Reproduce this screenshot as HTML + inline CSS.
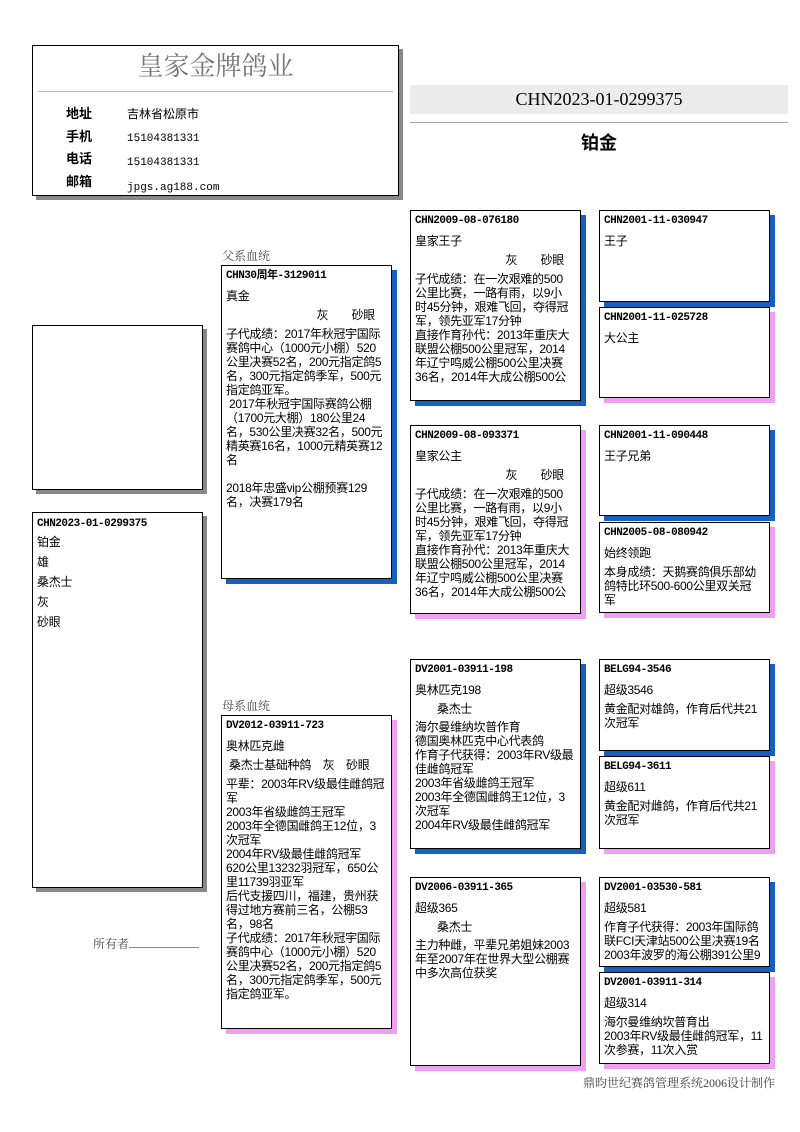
<!DOCTYPE html>
<html><head><meta charset="utf-8"><style>
*{margin:0;padding:0;box-sizing:border-box}
body{width:800px;height:1132px;background:#fff;position:relative;overflow:hidden;font-family:"Liberation Sans","Noto Sans CJK SC",sans-serif;color:#000}
.a{position:absolute}
.box{position:absolute;border:1px solid #000;background:#fff;padding:3px 4px;font-size:12px;line-height:14px;overflow:hidden;white-space:nowrap;letter-spacing:-0.3px}
.m{box-shadow:5px 5px 0 #1560c0}
.f{box-shadow:5px 5px 0 #f0a0f0}
.g{box-shadow:4px 4px 0 #888}
.c{font-family:"Liberation Mono","Noto Sans CJK SC",monospace;font-weight:bold;font-size:11px;letter-spacing:-0.5px;line-height:14px;margin-bottom:6px}
.n{margin-bottom:5px}
.ce{text-align:right;padding-right:12px;margin-bottom:5px}
.lab{font-family:"Liberation Serif","Noto Serif CJK SC",serif;font-size:12px;color:#444}
</style></head><body>

<div class="box g" style="left:32px;top:45px;width:367px;height:151px;padding:0;letter-spacing:0">
  <div class="a" style="left:0;top:4px;width:100%;text-align:center;font-family:'Liberation Serif','Noto Serif CJK SC',serif;font-size:26px;color:#777;line-height:34px">皇家金牌鸽业</div>
  <div class="a" style="left:5px;top:45px;width:355px;height:1px;background:#bbb"></div>
  <div class="a" style="left:33px;top:57px;font-size:13px;font-weight:bold;line-height:22.7px">地址<br>手机<br>电话<br>邮箱</div>
  <div class="a" style="left:94px;top:57px;font-size:12px;line-height:22.7px">吉林省松原市<br><span style="font-family:'Liberation Mono',monospace;font-size:11px">15104381331<br>15104381331<br>jpgs.ag188.com</span></div>
</div>

<div class="a" style="left:410px;top:85px;width:378px;height:29px;background:#ececec;text-align:center;font-family:'Liberation Serif',serif;font-size:18px;line-height:29px">CHN2023-01-0299375</div>
<div class="a" style="left:410px;top:122px;width:378px;height:1px;background:#aaa"></div>
<div class="a" style="left:410px;top:131px;width:378px;text-align:center;font-size:18px;font-weight:bold;line-height:24px">铂金</div>

<div class="box g" style="left:32px;top:325px;width:171px;height:165px"></div>
<div class="box g" style="left:32px;top:512px;width:171px;height:376px;line-height:20px">
<div class="c" style="margin-bottom:0;line-height:16px">CHN2023-01-0299375</div>铂金<br>雄<br>桑杰士<br>灰<br>砂眼</div>
<div class="a lab" style="left:93px;top:935px">所有者<span style="display:inline-block;width:70px;border-bottom:1px solid #888"></span></div>

<div class="a lab" style="left:222px;top:247px">父系血统</div>
<div class="box m" style="left:221px;top:265px;width:171px;height:314px">
<div class="c">CHN30周年-3129011</div><div class="n">真金</div><div class="ce">灰　　砂眼</div>
子代成绩：2017年秋冠宇国际<br>赛鸽中心（1000元小棚）520<br>公里决赛52名，200元指定鸽5<br>名，300元指定鸽季军，500元<br>指定鸽亚军。<br>&nbsp;2017年秋冠宇国际赛鸽公棚<br>（1700元大棚）180公里24<br>名，530公里决赛32名，500元<br>精英赛16名，1000元精英赛12<br>名<br><br>2018年忠盛vip公棚预赛129<br>名，决赛179名</div>

<div class="a lab" style="left:222px;top:697px">母系血统</div>
<div class="box f" style="left:221px;top:715px;width:171px;height:314px">
<div class="c">DV2012-03911-723</div><div class="n">奥林匹克雌</div><div class="n">&nbsp;桑杰士基础种鸽　灰　砂眼</div>
平辈：2003年RV级最佳雌鸽冠<br>军<br>2003年省级雌鸽王冠军<br>2003年全德国雌鸽王12位，3<br>次冠军<br>2004年RV级最佳雌鸽冠军<br>620公里13232羽冠军，650公<br>里11739羽亚军<br>后代支援四川，福建，贵州获<br>得过地方赛前三名，公棚53<br>名，98名<br>子代成绩：2017年秋冠宇国际<br>赛鸽中心（1000元小棚）520<br>公里决赛52名，200元指定鸽5<br>名，300元指定鸽季军，500元<br>指定鸽亚军。</div>

<div class="box m" style="left:410px;top:210px;width:171px;height:191px">
<div class="c">CHN2009-08-076180</div><div class="n">皇家王子</div><div class="ce">灰　　砂眼</div>
子代成绩：在一次艰难的500<br>公里比赛，一路有雨，以9小<br>时45分钟，艰难飞回，夺得冠<br>军，领先亚军17分钟<br>直接作育孙代：2013年重庆大<br>联盟公棚500公里冠军，2014<br>年辽宁鸣威公棚500公里决赛<br>36名，2014年大成公棚500公</div>
<div class="box f" style="left:410px;top:425px;width:171px;height:189px">
<div class="c">CHN2009-08-093371</div><div class="n">皇家公主</div><div class="ce">灰　　砂眼</div>
子代成绩：在一次艰难的500<br>公里比赛，一路有雨，以9小<br>时45分钟，艰难飞回，夺得冠<br>军，领先亚军17分钟<br>直接作育孙代：2013年重庆大<br>联盟公棚500公里冠军，2014<br>年辽宁鸣威公棚500公里决赛<br>36名，2014年大成公棚500公</div>
<div class="box m" style="left:410px;top:659px;width:171px;height:190px">
<div class="c">DV2001-03911-198</div><div class="n">奥林匹克198</div><div style="padding-left:22px;margin-bottom:4px">桑杰士</div>
海尔曼维纳坎普作育<br>德国奥林匹克中心代表鸽<br>作育子代获得：2003年RV级最<br>佳雌鸽冠军<br>2003年省级雌鸽王冠军<br>2003年全德国雌鸽王12位，3<br>次冠军<br>2004年RV级最佳雌鸽冠军</div>
<div class="box f" style="left:410px;top:877px;width:171px;height:189px">
<div class="c">DV2006-03911-365</div><div class="n">超级365</div><div style="padding-left:22px;margin-bottom:4px">桑杰士</div>
主力种雌，平辈兄弟姐妹2003<br>年至2007年在世界大型公棚赛<br>中多次高位获奖</div>

<div class="box m" style="left:599px;top:210px;width:171px;height:92px"><div class="c">CHN2001-11-030947</div>王子</div>
<div class="box f" style="left:599px;top:307px;width:171px;height:91px"><div class="c">CHN2001-11-025728</div>大公主</div>
<div class="box m" style="left:599px;top:425px;width:171px;height:91px"><div class="c">CHN2001-11-090448</div>王子兄弟</div>
<div class="box f" style="left:599px;top:522px;width:171px;height:91px"><div class="c">CHN2005-08-080942</div><div class="n">始终领跑</div>本身成绩：天鹅赛鸽俱乐部幼<br>鸽特比环500-600公里双关冠<br>军</div>
<div class="box m" style="left:599px;top:659px;width:171px;height:92px"><div class="c">BELG94-3546</div><div class="n">超级3546</div>黄金配对雄鸽，作育后代共21<br>次冠军</div>
<div class="box f" style="left:599px;top:756px;width:171px;height:93px"><div class="c">BELG94-3611</div><div class="n">超级611</div>黄金配对雌鸽，作育后代共21<br>次冠军</div>
<div class="box m" style="left:599px;top:877px;width:171px;height:90px"><div class="c">DV2001-03530-581</div><div class="n">超级581</div>作育子代获得：2003年国际鸽<br>联FCI天津站500公里决赛19名<br>2003年波罗的海公棚391公里9</div>
<div class="box f" style="left:599px;top:972px;width:171px;height:92px"><div class="c">DV2001-03911-314</div><div class="n">超级314</div>海尔曼维纳坎普育出<br>2003年RV级最佳雌鸽冠军，11<br>次参赛，11次入赏</div>

<div class="a lab" style="left:583px;top:1074px">鼎昀世纪赛鸽管理系统2006设计制作</div>
</body></html>
